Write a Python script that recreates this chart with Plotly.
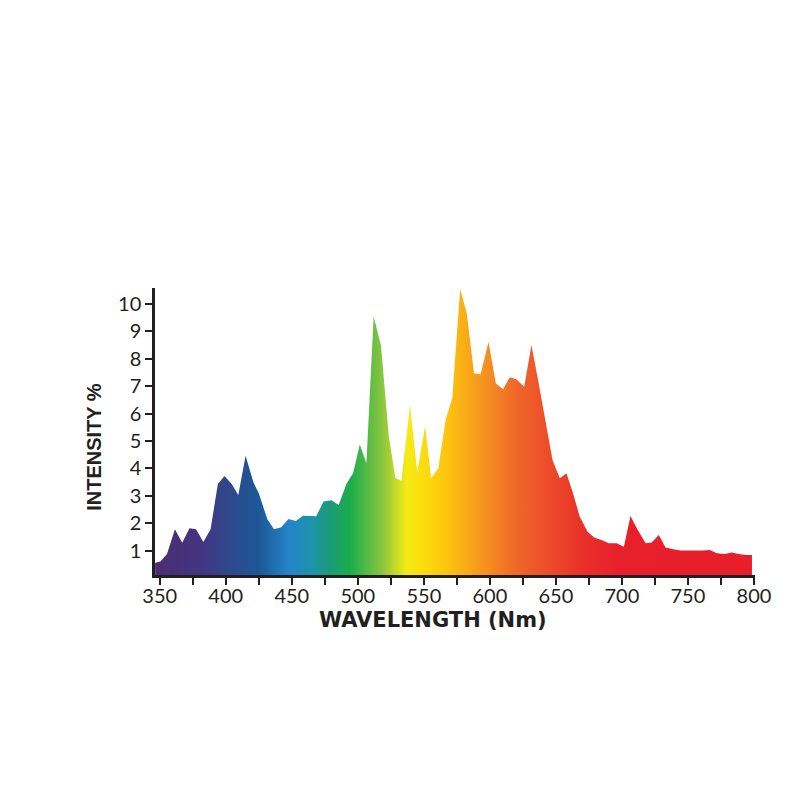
import plotly.graph_objects as go

wavelength = [346.5, 350.5, 355.5, 361.5, 367, 372.5, 377.5, 383, 388.5, 394, 399, 404.5,
              409.5, 415, 421, 425, 431.5, 436.5, 442, 447.5, 453, 458.5, 463.5, 468.5,
              474, 480, 485.5, 491.5, 496.5, 501.5, 506.5, 512, 517.5, 523.5, 528.5, 533,
              539.5, 545, 551, 555.5, 561, 566.5, 571.5, 577.5, 582.5, 588, 593, 599,
              604.5, 610, 615, 620, 626, 631.5, 637, 642, 647.5, 653, 658, 663, 668, 674,
              679, 684.5, 690, 696, 701.5, 706.5, 712, 718, 722.5, 728, 733, 739, 744.5,
              749.5, 755, 761, 766.5, 772, 778, 783, 788.5, 793.5, 798.5]
intensity = [0.56, 0.6, 0.88, 1.78, 1.29, 1.82, 1.78, 1.31, 1.78, 3.43, 3.72, 3.43,
             3.03, 4.46, 3.48, 3.09, 2.14, 1.78, 1.85, 2.15, 2.08, 2.27, 2.26, 2.25,
             2.79, 2.84, 2.66, 3.45, 3.83, 4.87, 4.19, 9.54, 8.5, 5.16, 3.64, 3.55,
             6.31, 3.88, 5.55, 3.64, 4.0, 5.77, 6.56, 10.54, 9.66, 7.47, 7.43, 8.62,
             7.1, 6.89, 7.32, 7.25, 6.98, 8.5, 7.1, 5.75, 4.3, 3.64, 3.82, 3.09, 2.24, 1.69,
             1.48, 1.39, 1.27, 1.27, 1.14, 2.26, 1.75, 1.27, 1.3, 1.57, 1.11, 1.05, 1.0,
             1.0, 0.99, 1.0, 1.02, 0.9, 0.88, 0.93, 0.88, 0.84, 0.84]

x_ticks = [350, 400, 450, 500, 550, 600, 650, 700, 750, 800]
y_ticks = [1, 2, 3, 4, 5, 6, 7, 8, 9, 10]

# spectrum colour stops (wavelength, colour)
stop_wl = [346, 380, 405, 425, 448, 465, 480, 494, 505, 519, 537, 555, 570, 595, 621, 646, 671, 696, 800]
stop_col = ["#4a2d72", "#443480", "#2d4a8c", "#1c5898", "#2385c8", "#1d92aa", "#1a9c74",
            "#1aad4a", "#4bb847", "#8cc63f", "#f6eb14", "#fdd60c", "#fcc010", "#f6941f",
            "#ef6629", "#ec4a2a", "#e9302a", "#e8202b", "#e81f2b"]
lo, hi = stop_wl[0], stop_wl[-1]
colorscale = [[(w - lo) / (hi - lo), c] for w, c in zip(stop_wl, stop_col)]

fig = go.Figure()
fig.add_trace(go.Scatter(
    x=wavelength, y=intensity, mode="lines",
    line=dict(width=0, color="rgba(0,0,0,0)"),
    fill="tozeroy",
    fillgradient=dict(type="horizontal", colorscale=colorscale, start=lo, stop=hi),
    hoverinfo="x+y",
))

axis_font = dict(family="Lato, Open Sans, sans-serif", size=20, color="#231f20")
ink = "#231f20"

fig.update_layout(
    width=800, height=800,
    margin=dict(l=147, r=53, t=280, b=233),
    plot_bgcolor="white", paper_bgcolor="white",
    showlegend=False,
    xaxis=dict(
        range=[346.4, 800.8], tickmode="array", tickvals=x_ticks,
        ticktext=[str(v) for v in x_ticks],
        minor=dict(tickmode="linear", dtick=25, tick0=350, ticks="outside", ticklen=7,
                   tickwidth=2, tickcolor=ink, showgrid=False),
        ticks="outside", ticklen=7, tickwidth=2, tickcolor=ink,
        ticklabelstandoff=-6,
        showline=True, linecolor=ink, linewidth=2.5,
        showgrid=False, zeroline=False, tickfont=axis_font,
    ),
    yaxis=dict(
        range=[0.11, 10.58], tickmode="array", tickvals=y_ticks,
        ticktext=[str(v) for v in y_ticks],
        ticks="outside", ticklen=7, tickwidth=2, tickcolor=ink,
        showline=True, linecolor=ink, linewidth=2.5,
        showgrid=False, zeroline=False, tickfont=axis_font,
    ),
    annotations=[
        dict(text="<b>INTENSITY %</b>", xref="paper", yref="paper",
             x=-0.102, y=0.446, xanchor="center", yanchor="middle", textangle=-90,
             showarrow=False,
             font=dict(family="Liberation Sans, Arial, sans-serif", size=20, color=ink)),
        dict(text="<b>WAVELENGTH (Nm)</b>", xref="paper", yref="paper",
             x=0.464, y=-0.157, xanchor="center", yanchor="middle",
             showarrow=False,
             font=dict(family="DejaVu Sans, sans-serif", size=21, color=ink)),
    ],
)

fig.write_html("out.html")
